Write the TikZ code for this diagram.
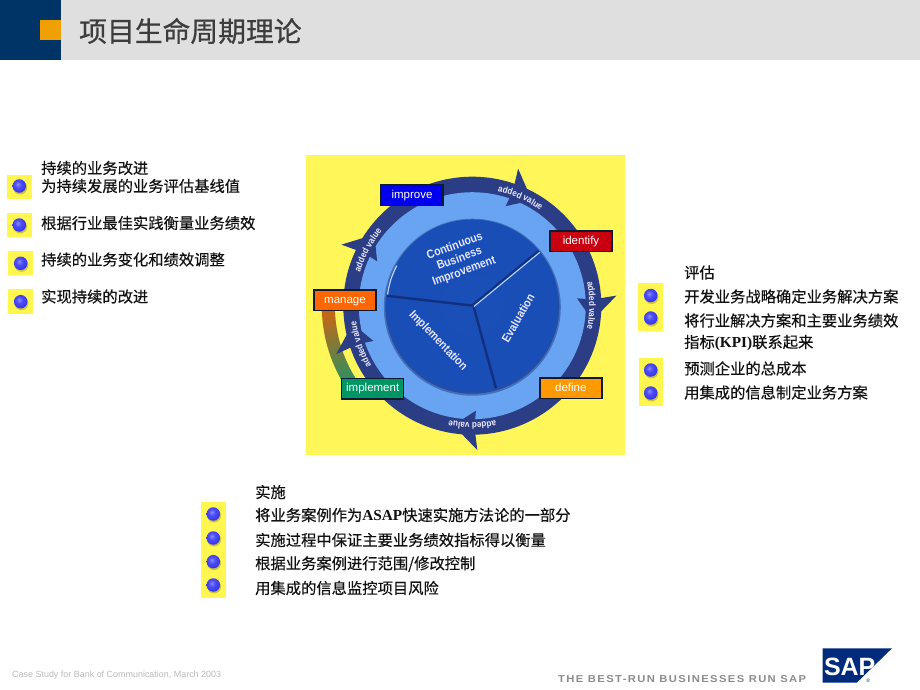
\documentclass[tikz,border=0pt]{standalone}
\usepackage{fontspec}
\usepackage{xcolor}
\setmainfont{Liberation Sans}
\newfontfamily\cjk{Noto Sans CJK SC}[FakeBold=0.35]
\newfontfamily\cjktitle{Noto Sans CJK SC}[FakeBold=0.6]
\newfontfamily\serifb{Liberation Serif}
\newfontfamily\slogan{Liberation Sans}[LetterSpace=14,FakeStretch=1.12]
\newfontfamily\condf{Liberation Sans}[FakeStretch=0.88]
\usetikzlibrary{decorations.text,calc,shadows}
\definecolor{navy}{HTML}{003366}
\definecolor{hdr}{HTML}{DFDFDF}
\definecolor{orng}{HTML}{F0A000}
\definecolor{ylw}{HTML}{FFF65A}
\definecolor{bullety}{HTML}{FFF650}
\definecolor{ringc}{HTML}{2B3D85}
\definecolor{lightb}{HTML}{68A4F2}
\definecolor{diskc}{HTML}{1A4DB5}
\definecolor{diskd}{HTML}{12307F}
\definecolor{bordc}{HTML}{0E1A33}
\definecolor{txtg}{HTML}{111111}
\definecolor{arco}{HTML}{D2640F}
\definecolor{arcg}{HTML}{2E9060}
\definecolor{ballA}{rgb}{0.55,0.55,1}
\definecolor{ballB}{rgb}{0.30,0.30,0.98}
\definecolor{ballC}{rgb}{0.18,0.18,0.88}
\definecolor{ballD}{rgb}{0.12,0.12,0.66}
\definecolor{dskA}{rgb}{0.10,0.31,0.72}
\definecolor{dskB}{rgb}{0.10,0.30,0.71}
\definecolor{dskC}{rgb}{0.08,0.24,0.60}
\definecolor{dskD}{rgb}{0.06,0.17,0.46}
\pgfdeclareradialshading{bluball}{\pgfpoint{-6bp}{7bp}}{color(0bp)=(ballA);color(12bp)=(ballB);color(34bp)=(ballC);color(56bp)=(ballD);color(100bp)=(ballD)}
\pgfdeclareradialshading{diskshade}{\pgfpoint{0bp}{0bp}}{color(0bp)=(dskA);color(41bp)=(dskB);color(47bp)=(dskC);color(50bp)=(dskD)}
\tikzset{
  bodytxt/.style={anchor=west,inner sep=0pt,text=txtg,font=\cjk\fontsize{15.3}{15.3}\selectfont},
  flagbox/.style={draw=bordc,line width=1.5pt,minimum width=62pt,minimum height=20.5pt,inner sep=0pt,text=white,text height=8.4pt,text depth=2.4pt,font=\fontsize{11.5}{12}\selectfont},
  disktxt/.style={inner sep=0pt,align=center,text=white!90!blue,font=\condf\bfseries\fontsize{12}{13.5}\selectfont},
  bullet square/.style={fill=bullety,draw=none,minimum size=24.5pt,inner sep=0pt},
  ball/.style={circle,minimum size=13.5pt,inner sep=0pt,draw=none,shading=bluball}
}
\newcommand{\bulletat}[5]{%
  \node[bullet square] (#1s) at (#2,#3) {};
  \fill[black!50!bullety,opacity=.4] (#4+.8,#5+1.5) circle (7);
  \node[ball] (#1b) at (#4,#5) {};
}
\newcommand{\addedvalue}[1]{%
  \path[decorate,decoration={text along path,text align=center,
     text={|\condf\bfseries\fontsize{9.2}{9.5}\selectfont\color{white!92!blue}|added value}}]
     (#1+34:117) arc[start angle=#1+34,end angle=#1-34,radius=117];
}
\newcommand{\arrowhead}[1]{%
  \fill[ringc] (#1:144.5) -- (#1-11:121) -- (#1:105) -- (#1-1:121) -- cycle;
}
\begin{document}
\begin{tikzpicture}[x=1pt,y=-1pt]
\useasboundingbox (0,0) rectangle (920,690);
\fill[white] (0,0) rectangle (920,690);
% header
\fill[hdr] (0,0) rectangle (920,60);
\fill[navy] (0,0) rectangle (60.5,60);
\fill[orng] (40,20) rectangle (60.5,40);
\node[anchor=west,inner sep=0pt,text=black!76,font=\cjktitle\fontsize{27.8}{28}\selectfont] (title) at (79,31) {项目生命周期理论};
% yellow panel
\fill[ylw] (306,155) rectangle (625,455);
\begin{scope}[shift={(472.3,305.7)},y=1pt]
  % gradient arc manage -> implement
  \foreach \i in {0,...,30}{
    \pgfmathsetmacro{\aa}{180+\i*1.03}
    \pgfmathsetmacro{\bb}{\aa+1.3}
    \pgfmathsetmacro{\mx}{100-\i*100/30}
    \colorlet{segc}{arco!\mx!arcg}
    \draw[segc,line width=13pt] (\aa:144) arc[start angle=\aa,end angle=\bb,radius=144];
  }
  % ring
  \fill[ringc] (0,0) circle (129);
  \fill[lightb] (0,0) circle (113.5);
  % arrow heads
  \arrowhead{71.5}\arrowhead{4}\arrowhead{272}\arrowhead{199.6}\arrowhead{155}
  \addedvalue{66}\addedvalue{0}\addedvalue{270}\addedvalue{199}\addedvalue{152}
  % disk
  \fill[diskd!45!lightb] (0,-1.5) circle (88.5);
  \fill[diskd!75!lightb] (0,-1) circle (87);
  \path[shading=diskshade] (0,0) circle (86);
  \draw[white!55!lightb,line width=1.2pt] (173:85.5) arc[start angle=173,end angle=152,radius=85.5];
  \coordinate (hub) at (1,0);
  \coordinate (e1) at (39:86);
  \coordinate (e2) at (173.4:86);
  \coordinate (e3) at (-74:86);
  \draw[diskd,line width=2.4pt] (hub) -- (e2);
  \draw[diskd,line width=2.4pt] (hub) -- (e3);
  \draw[diskd,line width=2pt] ($(hub)+(-.6,.8)$) -- ($(e1)+(-.6,.8)$);
  \draw[white!50!lightb,line width=1.1pt] ($(hub)+(.6,-.8)$) -- ($(e1)+(.6,-.8)$);
\end{scope}
\node[disktxt,rotate=20] (cbi) at (459.5,259) {Continuous\\Business\\Improvement};
\node[disktxt,rotate=-46] (impl) at (438,341) {Implementation};
\node[disktxt,rotate=60] (eval) at (518,318) {Evaluation};
\node[flagbox,fill={rgb,255:red,0;green,0;blue,238}] (improve) at (412,195) {improve};
\node[flagbox,fill={rgb,255:red,200;green,0;blue,16}] (identify) at (581,241) {identify};
\node[flagbox,fill={rgb,255:red,255;green,153;blue,0}] (define) at (570.8,388.2) {define};
\node[flagbox,fill={rgb,255:red,0;green,150;blue,100}] (implement) at (372.7,388.8) {implement};
\node[flagbox,fill={rgb,255:red,255;green,102;blue,0}] (manage) at (345,300.3) {manage};
% left list
\bulletat{l1}{19.5}{187}{19.3}{186}
\bulletat{l2}{19.5}{225}{19.3}{225}
\bulletat{l3}{20.5}{263}{20.7}{263.3}
\bulletat{l4}{20.5}{301.5}{20.7}{301.7}
\node[bodytxt] (lh) at (41,168) {持续的业务改进};
\node[bodytxt] (l1) at (41,186) {为持续发展的业务评估基线值};
\node[bodytxt] (l2) at (41,223) {根据行业最佳实践衡量业务绩效};
\node[bodytxt] (l3) at (41,259.5) {持续的业务变化和绩效调整};
\node[bodytxt] (l4) at (41,296.5) {实现持续的改进};
% right list
\bulletat{r1}{650.5}{295}{650.7}{295.5}
\bulletat{r2}{650.5}{319}{650.7}{318}
\bulletat{r3}{651}{370}{650.7}{370}
\bulletat{r4}{651}{394}{650.7}{393}
\node[bodytxt] (rh) at (684,272.5) {评估};
\node[bodytxt] (r1) at (684,296.5) {开发业务战略确定业务解决方案};
\node[bodytxt] (r2) at (684,320.5) {将行业解决方案和主要业务绩效};
\node[bodytxt] (r2b) at (684,343) {指标{\serifb\bfseries (KPI)}联系起来};
\node[bodytxt] (r3) at (684,368.5) {预测企业的总成本};
\node[bodytxt] (r4) at (684,392.5) {用集成的信息制定业务方案};
% bottom list
\bulletat{b1}{213.5}{514}{213.3}{514}
\bulletat{b2}{213.5}{538}{213.3}{538}
\bulletat{b3}{213.5}{562}{213.3}{561.7}
\bulletat{b4}{213.5}{586}{213.3}{585}
\node[bodytxt] (bh) at (255,492) {实施};
\node[bodytxt] (b1) at (255,515) {将业务案例作为{\serifb\bfseries ASAP}快速实施方法论的一部分};
\node[bodytxt] (b2) at (255,540) {实施过程中保证主要业务绩效指标得以衡量};
\node[bodytxt] (b3) at (255,564) {根据业务案例进行范围/修改控制};
\node[bodytxt] (b4) at (255,588) {用集成的信息监控项目风险};
% footer
\node[anchor=west,inner sep=0pt,text=black!27,font=\fontsize{8.95}{9}\selectfont] (foot) at (12,675.3) {Case Study for Bank of Communication, March 2003};
\node[anchor=west,inner sep=0pt,text=black!45,font=\slogan\bfseries\fontsize{10}{10}\selectfont] (slog) at (558,679.3) {THE BEST-RUN BUSINESSES RUN SAP};
\fill[navy!85!blue] (822.7,648.3) -- (892,648.3) -- (856.7,682.7) -- (822.7,682.7) -- cycle;
\node[anchor=center,inner sep=0pt,text=white,font=\bfseries\fontsize{25}{25}\selectfont] (sap) at (849.7,666.5) {SAP};
\node[anchor=center,inner sep=0pt,text=navy,font=\fontsize{5}{5}\selectfont] (reg) at (868.3,680.7) {®};
\end{tikzpicture}
\end{document}
